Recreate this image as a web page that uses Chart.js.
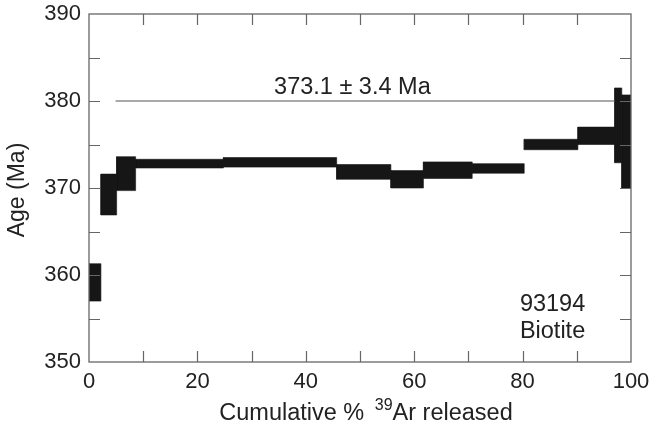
<!DOCTYPE html>
<html>
<head>
<meta charset="utf-8">
<script src="https://cdn.jsdelivr.net/npm/chart.js@4.4.0/dist/chart.umd.min.js"></script>
<style>
  html, body { margin: 0; padding: 0; background: #fff; }
  #wrap { width: 652px; height: 430px; }
</style>
</head>
<body>
<div id="wrap"><canvas id="chart"></canvas></div>
<script>
// 39Ar release steps (cumulative %)
const stepStart = [0, 2.2, 5.1, 8.6, 24.8, 45.7, 55.7, 61.7, 70.7, 80.3, 90.2, 97.0, 98.3];
const stepEnd   = [2.2, 5.1, 8.6, 24.8, 45.7, 55.7, 61.7, 70.7, 80.3, 90.2, 97.0, 98.3, 100];
// apparent age band of each step (Ma)
const ageLow  = [357.0, 366.9, 369.7, 372.3, 372.4, 371.0, 370.0, 371.1, 371.7, 374.4, 375.0, 372.9, 370.0];
const ageHigh = [361.3, 371.6, 373.6, 373.3, 373.5, 372.7, 372.0, 373.0, 372.8, 375.6, 377.0, 381.5, 380.7];

// plateau marker
const plateauX = [4.9, 97.0];
const plateauY = 380;
const plateauLabel = '373.1 \u00b1 3.4 Ma';
const sampleLabel = ['93194', 'Biotite'];

// axes
const xLabels = [0, 20, 40, 60, 80, 100];
const yLabels = [350, 360, 370, 380, 390];

const FONT = '"Liberation Sans", Arial, Helvetica, sans-serif';
const INK = '#222';

const datasets = stepStart.map(function (s, i) {
  const e = stepEnd[i];
  return {
    data: [
      { x: s, y: ageLow[i] }, { x: e, y: ageLow[i] },
      { x: e, y: ageHigh[i] }, { x: s, y: ageHigh[i] },
      { x: s, y: ageLow[i] }
    ],
    fill: 'shape',
    backgroundColor: '#161616',
    borderColor: '#161616',
    borderWidth: 0.6,
    pointRadius: 0,
    tension: 0
  };
});

datasets.unshift({
  data: plateauX.map(function (x) { return { x: x, y: plateauY }; }),
  borderColor: '#555',
  borderWidth: 1.2,
  pointRadius: 0,
  fill: false
});

// frame, inward ticks and free text
const decor = {
  id: 'decor',
  afterDatasetsDraw(chart) {
    const ctx = chart.ctx;
    const a = chart.chartArea;
    const xs = chart.scales.x, ys = chart.scales.y;
    const tl = 11;
    ctx.save();
    ctx.strokeStyle = '#666';
    ctx.lineWidth = 1.3;
    ctx.strokeRect(a.left, a.top, a.right - a.left, a.bottom - a.top);
    ctx.lineWidth = 1.2;
    ctx.beginPath();
    xs.ticks.forEach(function (t) {
      if (t.value <= xs.min || t.value >= xs.max) return;
      const px = Math.round(xs.getPixelForValue(t.value)) + 0.5;
      ctx.moveTo(px, a.bottom); ctx.lineTo(px, a.bottom - tl);
      ctx.moveTo(px, a.top); ctx.lineTo(px, a.top + tl);
    });
    ys.ticks.forEach(function (t) {
      if (t.value <= ys.min || t.value >= ys.max) return;
      const py = Math.round(ys.getPixelForValue(t.value)) + 0.5;
      ctx.moveTo(a.left, py); ctx.lineTo(a.left + tl, py);
      ctx.moveTo(a.right, py); ctx.lineTo(a.right - tl, py);
    });
    ctx.stroke();

    ctx.fillStyle = INK;
    ctx.font = '23.5px ' + FONT;
    ctx.textBaseline = 'alphabetic';
    ctx.textAlign = 'center';
    ctx.fillText(plateauLabel, xs.getPixelForValue(48.6), ys.getPixelForValue(380.8));
    ctx.textAlign = 'left';
    ctx.fillText(sampleLabel[0], xs.getPixelForValue(79.5), ys.getPixelForValue(355.9));
    ctx.fillText(sampleLabel[1], xs.getPixelForValue(79.5), ys.getPixelForValue(352.8));

    // x title with superscript
    const parts = ['Cumulative % ', '39', 'Ar released'];
    ctx.font = '23.5px ' + FONT;
    const w0 = ctx.measureText(parts[0]).width;
    const w2 = ctx.measureText(parts[2]).width;
    ctx.font = '16px ' + FONT;
    const w1 = ctx.measureText(parts[1]).width;
    const total = w0 + 4 + w1 + w2;
    let x = 366 - total / 2;
    const base = 420;
    ctx.font = '23.5px ' + FONT;
    ctx.fillText(parts[0], x, base);
    x += w0 + 4;
    ctx.font = '16px ' + FONT;
    ctx.fillText(parts[1], x, base - 10);
    x += w1;
    ctx.font = '23.5px ' + FONT;
    ctx.fillText(parts[2], x, base);

    // y title
    ctx.font = '23px ' + FONT;
    ctx.translate(24, (a.top + a.bottom) / 2 + 2);
    ctx.rotate(-Math.PI / 2);
    ctx.textAlign = 'center';
    ctx.fillText('Age (Ma)', 0, 0);
    ctx.restore();
  }
};

new Chart(document.getElementById('chart'), {
  type: 'line',
  data: { datasets: datasets },
  options: {
    responsive: true,
    maintainAspectRatio: false,
    animation: false,
    layout: { padding: { top: 14, right: 21, left: 0, bottom: 0 } },
    plugins: { legend: { display: false }, tooltip: { enabled: false } },
    scales: {
      x: {
        type: 'linear',
        min: 0, max: 100,
        grid: { display: false, drawTicks: false },
        border: { display: false },
        ticks: {
          stepSize: 10,
          padding: 7,
          color: INK,
          font: { family: FONT, size: 22 },
          maxRotation: 0,
          autoSkip: false,
          callback: function (v) { return xLabels.includes(v) ? String(v) : ''; }
        },
        afterFit: function (s) {
          s.height = 68;
          s.paddingLeft = 0; s.paddingRight = 0;
        }
      },
      y: {
        type: 'linear',
        min: 350, max: 390,
        grid: { display: false, drawTicks: false },
        border: { display: false },
        ticks: {
          stepSize: 5,
          padding: 8,
          color: INK,
          font: { family: FONT, size: 22 },
          autoSkip: false,
          callback: function (v) { return yLabels.includes(v) ? String(v) : ''; }
        },
        afterFit: function (s) {
          s.width = 89;
          s.paddingTop = 0; s.paddingBottom = 0;
        }
      }
    }
  },
  plugins: [decor]
});
</script>
</body>
</html>
